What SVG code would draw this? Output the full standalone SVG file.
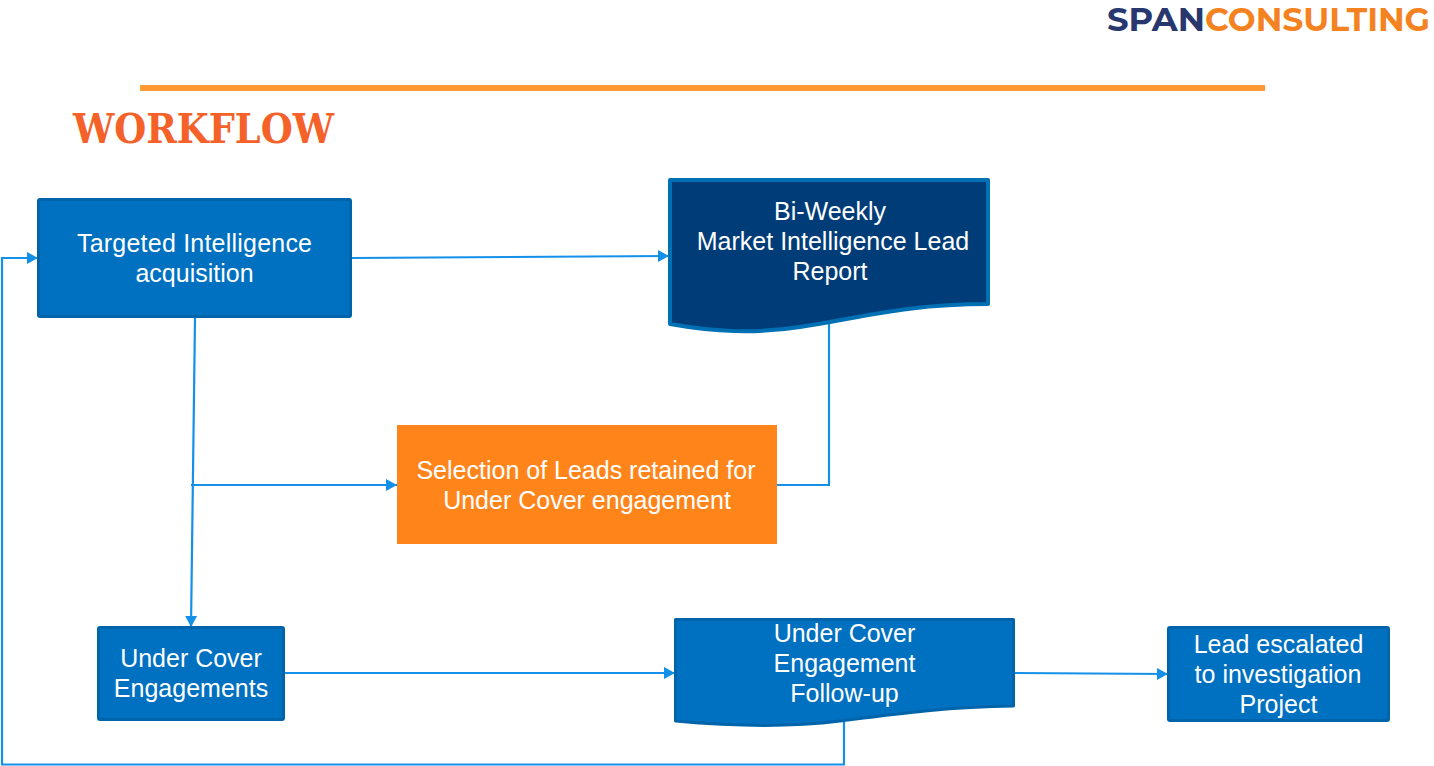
<svg xmlns="http://www.w3.org/2000/svg" width="1434" height="766" viewBox="0 0 1434 766">
<style>
.t{font-family:"Liberation Sans",Arial,sans-serif;font-size:25px;fill:#fff;text-anchor:middle}
.box{fill:#0070c0;stroke:#0064ab;stroke-width:3;stroke-linejoin:round}
.dark{fill:#003d78;stroke:#0070b4;stroke-width:4;stroke-linejoin:round}
.c{fill:none;stroke:#1490e8;stroke-width:2.200}
</style>
<defs>
<marker id="a" markerUnits="userSpaceOnUse" markerWidth="13" markerHeight="14" refX="11" refY="7" orient="auto"><path d="M0 1 L11 7 L0 13 Z" fill="#1490e8"/></marker>
</defs>
<rect width="1434" height="766" fill="#fff"/>
<text x="1107" y="31" font-family="Montserrat,'Open Sans','Noto Sans',sans-serif" font-weight="700" font-size="32.500" fill="#28386f" textLength="98" lengthAdjust="spacingAndGlyphs">SPAN</text>
<text x="1205" y="31" font-family="Montserrat,'Open Sans','Noto Sans',sans-serif" font-weight="700" font-size="32.500" fill="#f58220" textLength="225" lengthAdjust="spacingAndGlyphs">CONSULTING</text>
<rect x="140" y="85" width="1125" height="6" fill="#ff9933"/>
<text x="73" y="142.500" font-family="'DejaVu Serif','Liberation Serif',serif" font-weight="700" font-size="41" fill="#f4622a" textLength="261" lengthAdjust="spacingAndGlyphs">WORKFLOW</text>
<g id="connectors">
<path class="c" d="M352 258 L669 256" marker-end="url(#a)"/>
<path class="c" d="M195 318 L191 627" marker-end="url(#a)"/>
<path class="c" d="M191 485 L397 485" marker-end="url(#a)"/>
<path class="c" d="M829 323 V485 H777"/>
<path class="c" d="M285 673 H675" marker-end="url(#a)"/>
<path class="c" d="M1015 673 L1168 674" marker-end="url(#a)"/>
<path class="c" d="M844 720 V764.500 H2 V258 H38" marker-end="url(#a)"/>
</g>
<g id="n1"><rect class="box" x="38.500" y="199.500" width="312" height="117" rx="1.500"/><text class="t"><tspan x="194.500" y="252" textLength="235">Targeted Intelligence</tspan><tspan x="194.500" y="282">acquisition</tspan></text></g>
<g id="n2"><path class="dark" d="M670 180 H988 V304 C905 304 860 318 800 327 C755 334 715 332 670 324 Z"/><text class="t"><tspan x="830" y="220">Bi-Weekly</tspan><tspan x="833" y="250">Market Intelligence Lead</tspan><tspan x="830" y="280">Report</tspan></text></g>
<g id="n3"><rect x="397" y="425" width="380" height="119" fill="#ff851b"/><text class="t"><tspan x="586" y="479">Selection of Leads retained for</tspan><tspan x="587" y="509">Under Cover engagement</tspan></text></g>
<g id="n4"><rect class="box" x="98.500" y="627.500" width="185" height="92" rx="1.500"/><text class="t"><tspan x="191" y="667">Under Cover</tspan><tspan x="191" y="697">Engagements</tspan></text></g>
<g id="n5"><path class="box" d="M675.500 619.500 H1013.500 V706 C945 707 895 714 840 721 C785 728 730 726 675.500 721 Z"/><text class="t"><tspan x="844.500" y="642">Under Cover</tspan><tspan x="844.500" y="672">Engagement</tspan><tspan x="844.500" y="702">Follow-up</tspan></text></g>
<g id="n6"><rect class="box" x="1168.500" y="627.500" width="220" height="93" rx="1.500"/><text class="t"><tspan x="1278.500" y="653">Lead escalated</tspan><tspan x="1278" y="683">to investigation</tspan><tspan x="1278.500" y="713">Project</tspan></text></g>
</svg>
